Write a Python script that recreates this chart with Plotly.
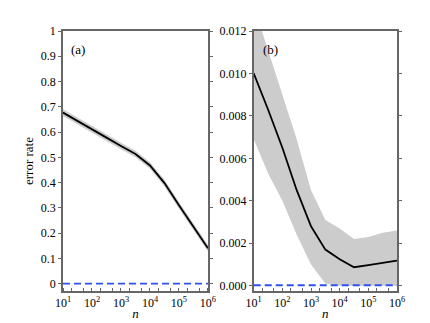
import plotly.graph_objects as go

# sample sizes n (log10 positions 1..6)
log_n = [1, 1.5, 2, 2.5, 3, 3.5, 4, 4.5, 5, 5.5, 6]
n_vals = [10 ** v for v in log_n]

# panel (a) error rate
a_mean = [0.677, 0.645, 0.612, 0.578, 0.545, 0.513, 0.468, 0.398, 0.31, 0.225, 0.14]
a_upper = [0.69, 0.658, 0.625, 0.591, 0.558, 0.526, 0.481, 0.411, 0.323, 0.238, 0.153]
a_lower = [0.664, 0.632, 0.599, 0.565, 0.532, 0.50, 0.455, 0.385, 0.297, 0.212, 0.127]

# panel (b) error rate
b_mean = [0.0100, 0.0083, 0.0065, 0.0045, 0.0028, 0.0017, 0.00125, 0.00087, 0.00097, 0.00107, 0.00118]
b_upper = [0.0132, 0.0111, 0.0090, 0.0069, 0.0045, 0.0031, 0.0027, 0.0022, 0.0023, 0.0025, 0.0026]
b_lower = [0.0069, 0.0053, 0.0040, 0.0024, 0.0010, 0.0001, 0.0, 0.0, 0.0, 0.0, 0.0]

# reference (dashed) error rate
ref_vals = [0.00002] * len(log_n)

x_tickvals = [10, 100, 1000, 10000, 100000, 1000000]
x_ticktext = ["10<sup>%d</sup>" % k for k in range(1, 7)]

FONT = "Liberation Serif, Times New Roman, serif"
FRAME = "#666666"

fig = go.Figure()

panels = [
    ("x", "y", a_mean, a_upper, a_lower),
    ("x2", "y2", b_mean, b_upper, b_lower),
]
for xa, ya, mean, upper, lower in panels:
    fig.add_trace(go.Scatter(x=n_vals, y=upper, mode="lines", line=dict(width=0),
                             xaxis=xa, yaxis=ya, showlegend=False, hoverinfo="skip"))
    fig.add_trace(go.Scatter(x=n_vals, y=lower, mode="lines", line=dict(width=0),
                             fill="tonexty", fillcolor="#cccccc",
                             xaxis=xa, yaxis=ya, showlegend=False, hoverinfo="skip"))
    fig.add_trace(go.Scatter(x=n_vals, y=mean, mode="lines", line=dict(color="black", width=1.8),
                             xaxis=xa, yaxis=ya, showlegend=False))
    fig.add_trace(go.Scatter(x=n_vals, y=ref_vals, mode="lines",
                             line=dict(color="#2f50f2", width=1.8, dash="7px,4px"),
                             xaxis=xa, yaxis=ya, showlegend=False))

xaxis_common = dict(
    type="log",
    range=[1, 6],
    tickvals=x_tickvals,
    ticktext=x_ticktext,
    ticks="",
    showgrid=False,
    zeroline=False,
    showline=True,
    linecolor=FRAME,
    linewidth=1.5,
    mirror=True,
    tickfont=dict(family=FONT, size=12, color="black"),
    minor=dict(ticks="inside", ticklen=3, tickcolor=FRAME, tickwidth=1, showgrid=False),
    title=dict(text="<i>n</i>", font=dict(family=FONT, size=13, color="black"), standoff=0),
)
yaxis_common = dict(
    showgrid=False,
    zeroline=False,
    showline=True,
    linecolor=FRAME,
    linewidth=1.5,
    mirror="ticks",
    ticks="outside",
    ticklen=3,
    tickcolor=FRAME,
    tickfont=dict(family=FONT, size=12, color="black"),
)

fig.update_layout(
    width=430,
    height=323,
    plot_bgcolor="white",
    paper_bgcolor="white",
    margin=dict(l=55, r=41, t=23, b=36),
    xaxis=dict(xaxis_common, domain=[0, 0.434], anchor="y"),
    xaxis2=dict(xaxis_common, domain=[0.571, 1], anchor="y2"),
    yaxis=dict(yaxis_common, range=[-0.029, 1], tickvals=[0, 0.1, 0.2, 0.3, 0.4, 0.5, 0.6, 0.7, 0.8, 0.9, 1],
               ticktext=["0", "0.1", "0.2", "0.3", "0.4", "0.5", "0.6", "0.7", "0.8", "0.9", "1"],
               anchor="x",
               title=dict(text="error rate", font=dict(family=FONT, size=13, color="black"), standoff=4)),
    yaxis2=dict(yaxis_common, range=[-0.00025, 0.012], tickvals=[0, 0.002, 0.004, 0.006, 0.008, 0.010, 0.012],
                ticktext=["0.000", "0.002", "0.004", "0.006", "0.008", "0.010", "0.012"], anchor="x2"),
    annotations=[
        dict(text="(a)", x=0.04, y=0.965, xref="x domain", yref="y domain", showarrow=False,
             xanchor="left", yanchor="top", font=dict(family=FONT, size=13, color="black")),
        dict(text="(b)", x=0.05, y=0.965, xref="x2 domain", yref="y2 domain", showarrow=False,
             xanchor="left", yanchor="top", font=dict(family=FONT, size=13, color="black")),
    ],
)

fig.write_html("out.html")
